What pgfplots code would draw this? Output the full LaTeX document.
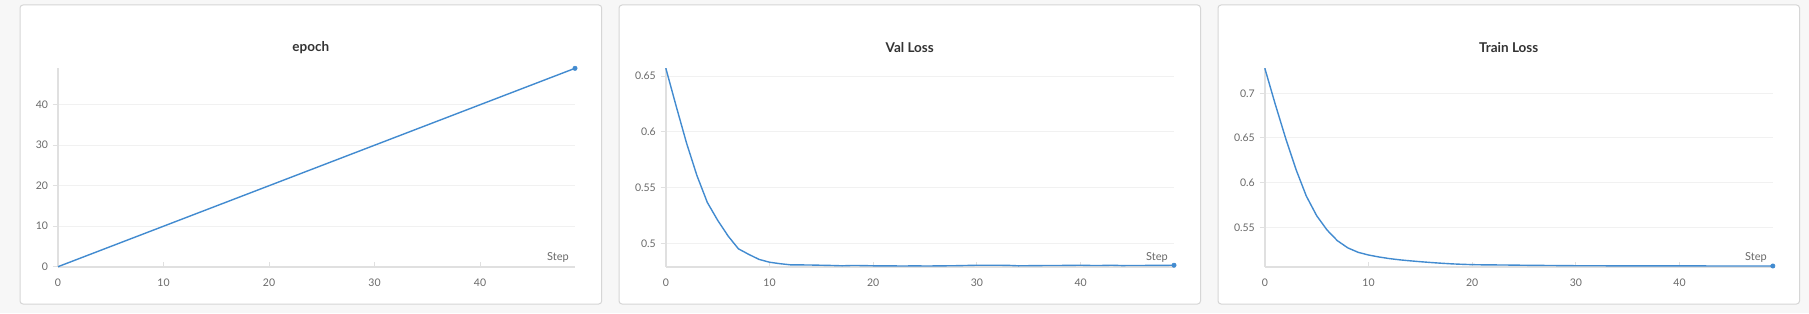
\documentclass[border=0pt]{standalone}
\usepackage{fontspec}
\setmainfont{Lato}
\usepackage{pgfplots}
\pgfplotsset{compat=1.18}
\definecolor{bg}{RGB}{247,247,247}
\definecolor{panelborder}{RGB}{214,214,214}
\definecolor{runblue}{RGB}{66,139,208}
\definecolor{axisgray}{RGB}{224,224,224}
\definecolor{gridgray}{RGB}{241,241,241}
\definecolor{ticklab}{RGB}{105,105,105}
\definecolor{titlecol}{RGB}{51,51,51}

\pgfplotstableread{
step epoch
0 0
1 1
2 2
3 3
4 4
5 5
6 6
7 7
8 8
9 9
10 10
11 11
12 12
13 13
14 14
15 15
16 16
17 17
18 18
19 19
20 20
21 21
22 22
23 23
24 24
25 25
26 26
27 27
28 28
29 29
30 30
31 31
32 32
33 33
34 34
35 35
36 36
37 37
38 38
39 39
40 40
41 41
42 42
43 43
44 44
45 45
46 46
47 47
48 48
49 49
}\epochdata

\pgfplotstableread{
step val
0 0.657
1 0.623
2 0.590
3 0.561
4 0.537
5 0.521
6 0.507
7 0.4955
8 0.4905
9 0.486
10 0.4835
11 0.4822
12 0.4812
13 0.4811
14 0.4810
15 0.4808
16 0.4806
17 0.4803
18 0.4806
19 0.4805
20 0.4803
21 0.4802
22 0.4802
23 0.4801
24 0.4803
25 0.4801
26 0.4802
27 0.4803
28 0.4804
29 0.4806
30 0.4808
31 0.4808
32 0.4808
33 0.4807
34 0.4803
35 0.4804
36 0.4805
37 0.4806
38 0.4806
39 0.4807
40 0.4808
41 0.4806
42 0.4806
43 0.4808
44 0.4805
45 0.4806
46 0.4806
47 0.4807
48 0.4807
49 0.4808
}\valdata

\pgfplotstableread{
step train
0 0.728
1 0.688
2 0.650
3 0.615
4 0.585
5 0.563
6 0.547
7 0.535
8 0.527
9 0.522
10 0.519
11 0.5168
12 0.5150
13 0.5136
14 0.5125
15 0.5115
16 0.5106
17 0.5098
18 0.5091
19 0.5086
20 0.5082
21 0.5080
22 0.5079
23 0.5078
24 0.5077
25 0.5075
26 0.5074
27 0.5073
28 0.5072
29 0.5071
30 0.5070
31 0.5070
32 0.5070
33 0.5069
34 0.5069
35 0.5069
36 0.5069
37 0.5068
38 0.5068
39 0.5068
40 0.5068
41 0.5068
42 0.5068
43 0.5067
44 0.5067
45 0.5067
46 0.5067
47 0.5067
48 0.5067
49 0.5067
}\traindata

\pgfplotsset{
  wb/.style={
    scale only axis,
    anchor=south west,
    clip=false,
    axis x line*=bottom,
    axis y line*=left,
    x axis line style={draw=axisgray, line width=1.6bp},
    y axis line style={draw=axisgray, line width=1.6bp},
    xtick align=inside,
    ytick align=outside,
    major tick length=5bp,
    tick style={draw=axisgray, line width=1bp},
    ymajorgrids,
    grid style={draw=gridgray, line width=1bp},
    ticklabel style={font=\fontsize{10.5bp}{12bp}\selectfont, text=ticklab},
    xticklabel style={yshift=-9bp},
    yticklabel style={xshift=-1.5bp},
    /pgf/number format/assume math mode=true,
    /pgf/number format/fixed,
    xmin=0, xmax=49,
    xtick={0,10,20,30,40},
    height=198.4bp,
  },
  wbline/.style={draw=runblue, line width=1.4bp, mark=*, mark indices={50},
    mark size=2.2bp, mark options={fill=runblue, draw=runblue, line width=0.5bp}},
}

\begin{document}
\begin{tikzpicture}[x=1bp,y=1bp]
\fill[bg] (0,0) rectangle (1809,313);
\useasboundingbox (0,0) rectangle (1809,313);
\draw[panelborder, fill=white, rounded corners=3bp, line width=1bp] (20,9) rectangle (601.7,308);
\draw[panelborder, fill=white, rounded corners=3bp, line width=1bp] (619,9) rectangle (1200.5,308);
\draw[panelborder, fill=white, rounded corners=3bp, line width=1bp] (1218,9) rectangle (1799.5,308);

\begin{axis}[wb, at={(58bp,46.3bp)}, width=517bp, ymin=0, ymax=49, ytick={0,10,20,30,40}]
\addplot[wbline] table[x=step, y=epoch] {\epochdata};
\end{axis}

\begin{axis}[wb, at={(665.8bp,46.3bp)}, width=508.2bp, ymin=0.4795, ymax=0.6569, ytick={0.5,0.55,0.6,0.65}]
\addplot[wbline] table[x=step, y=val] {\valdata};
\end{axis}

\begin{axis}[wb, at={(1264.8bp,46.3bp)}, width=508bp, ymin=0.5059, ymax=0.728, ytick={0.55,0.6,0.65,0.7}]
\addplot[wbline] table[x=step, y=train] {\traindata};
\end{axis}

\node[text=titlecol, font=\fontsize{13.5bp}{16bp}\selectfont\bfseries] at (310.8,265.3) {epoch};
\node[text=titlecol, font=\fontsize{13.5bp}{16bp}\selectfont\bfseries] at (909.7,265.3) {Val Loss};
\node[text=titlecol, font=\fontsize{13.5bp}{16bp}\selectfont\bfseries] at (1508.7,265.3) {Train Loss};

\node[text=ticklab, anchor=east, inner sep=0pt, font=\fontsize{11bp}{13bp}\selectfont] at (569,55.7) {Step};
\node[text=ticklab, anchor=east, inner sep=0pt, font=\fontsize{11bp}{13bp}\selectfont] at (1168,55.7) {Step};
\node[text=ticklab, anchor=east, inner sep=0pt, font=\fontsize{11bp}{13bp}\selectfont] at (1767,55.7) {Step};
\end{tikzpicture}
\end{document}
